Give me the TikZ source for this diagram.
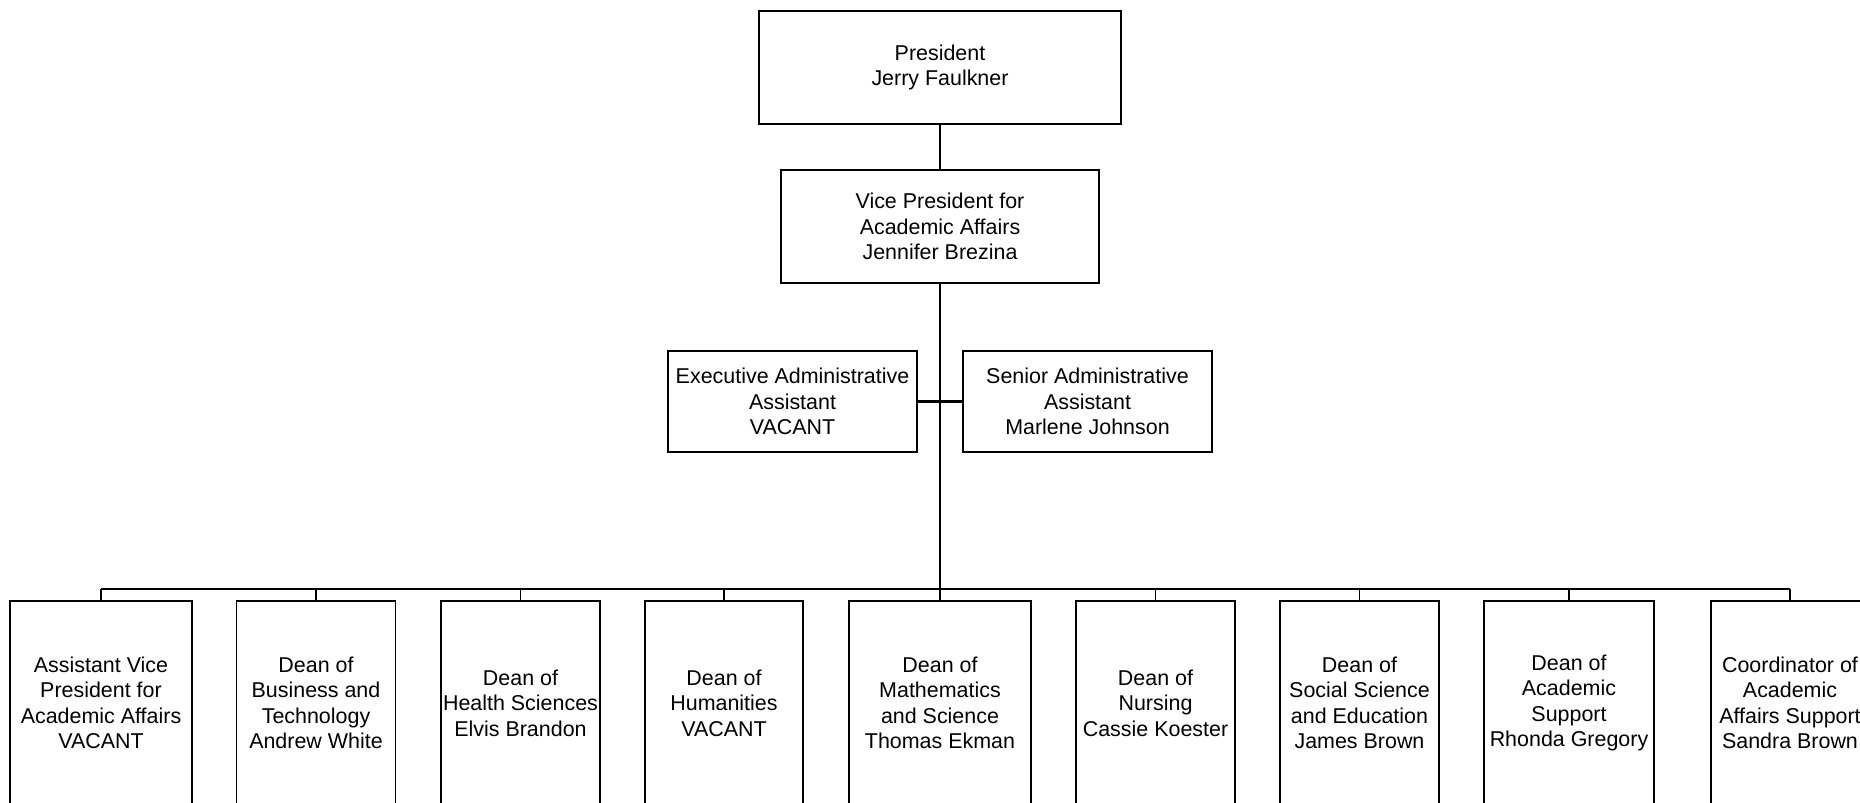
\documentclass[tikz,border=0pt]{standalone}
\usepackage{fontspec}
\setmainfont{Liberation Sans}
\usepackage{tikz}
\usetikzlibrary{arrows,positioning}

\tikzset{
	post/.style={draw, line width=0.9pt, align=center, inner sep=0pt,
	  font=\fontsize{12.2}{14.5}\selectfont},
	dean/.style={post, minimum height=4.08cm},
	spine/.style={line width=1.4pt},
	drop/.style={line width=1pt}
}

\begin{document}
\begin{tikzpicture}
	\useasboundingbox (0,0) rectangle (37.2,-16.04);
	\node[post, minimum width=7.24cm, minimum height=2.26cm] (pres) at (18.8,-1.35) {President\\Jerry Faulkner};
	\node[post, minimum width=6.36cm, minimum height=2.26cm] (vpaa) at (18.8,-4.53) {Vice President for\\Academic Affairs\\Jennifer Brezina};
	\node[post, minimum width=4.98cm, minimum height=2.02cm] (exec) at (15.85,-8.03) {Executive Administrative\\Assistant\\VACANT};
	\node[post, minimum width=4.98cm, minimum height=2.02cm] (senior) at (21.75,-8.03) {Senior Administrative\\Assistant\\Marlene Johnson};
	\coordinate (bus) at (18.8,-11.78);

	\node[dean, minimum width=3.64cm] (avp) at (2.02,-14.06) {Assistant Vice\\President for\\Academic Affairs\\VACANT};
	\node[dean, minimum width=3.18cm] (busi) at (6.32,-14.06) {Dean of\\Business and\\Technology\\Andrew White};
	\node[dean, minimum width=3.18cm] (health) at (10.41,-14.06) {Dean of\\Health Sciences\\Elvis Brandon};
	\node[dean, minimum width=3.16cm] (human) at (14.48,-14.06) {Dean of\\Humanities\\VACANT};
	\node[dean, minimum width=3.64cm] (math) at (18.8,-14.06) {Dean of\\Mathematics\\and Science\\Thomas Ekman};
	\node[dean, minimum width=3.18cm] (nurs) at (23.11,-14.06) {Dean of\\Nursing\\Cassie Koester};
	\node[dean, minimum width=3.18cm] (socsci) at (27.19,-14.06) {Dean of\\Social Science\\and Education\\James Brown};
	\node[dean, minimum width=3.40cm] (acad) at (31.38,-14.06) {Dean of\\Academic\\Support\\Rhonda Gregory};
	\node[dean, minimum width=3.16cm] (coord) at (35.8,-14.06) {Coordinator of\\Academic\\Affairs Support\\Sandra Brown};

	\draw[spine] (pres) -- (vpaa);
	\draw[spine] (vpaa) -- (bus);
	\draw[line width=1.2pt] (exec) -- (senior);
	\draw[spine] (avp.north |- bus) -- (coord.north |- bus);
	\foreach \n in {avp,busi,health,human,math,nurs,socsci,acad,coord}
	  \draw[drop] (\n.north) -- (\n.north |- bus);
\end{tikzpicture}
\end{document}
